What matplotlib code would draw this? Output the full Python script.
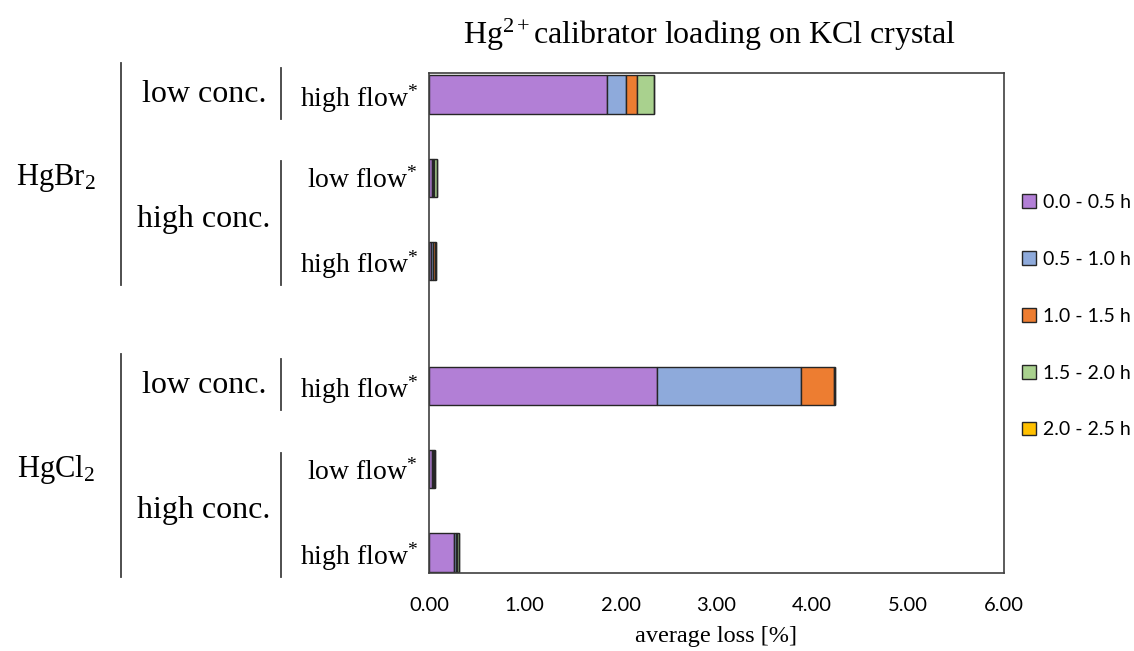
import matplotlib.pyplot as plt
from matplotlib.patches import Patch
from matplotlib.transforms import blended_transform_factory
import numpy as np

plt.rcParams['mathtext.fontset'] = 'custom'
plt.rcParams['mathtext.rm'] = 'Liberation Serif'
plt.rcParams['mathtext.it'] = 'Liberation Serif:italic'

# data
salts = ["HgBr$_2$", "HgCl$_2$"]
concs = [["low conc.", "high conc."], ["low conc.", "high conc."]]
flows = [[["high flow"], ["low flow", "high flow"]],
         [["high flow"], ["low flow", "high flow"]]]
periods = ["0.0 - 0.5 h", "0.5 - 1.0 h", "1.0 - 1.5 h", "1.5 - 2.0 h", "2.0 - 2.5 h"]
t_00_05 = [1.86, 0.03, 0.02, 2.38, 0.03, 0.265]
t_05_10 = [0.20, 0.01, 0.02, 1.50, 0.01, 0.015]
t_10_15 = [0.11, 0.01, 0.02, 0.345, 0.01, 0.01]
t_15_20 = [0.175, 0.03, 0.01, 0.01, 0.01, 0.02]
t_20_25 = [0.0, 0.0, 0.0, 0.0, 0.0, 0.0]
series = [t_00_05, t_05_10, t_10_15, t_15_20, t_20_25]
colors = ["#b27fd6", "#8eaadb", "#ed7d31", "#a9d18e", "#ffc000"]

serif = "Liberation Serif"
sans = "Lato"
edge = "#262626"

fig = plt.figure(figsize=(11.34, 6.51), dpi=100)
W, H = 1134, 651
ax = fig.add_axes([429 / W, 1 - 573 / H, (1003.5 - 429) / W, (573 - 73) / H])

# y positions: one slot per bar, 1.5 slots between salts
ypos, ylabels, conc_spans, salt_spans = [], [], [], []
y = 0.0
for si, salt in enumerate(salts):
    if si > 0:
        y += 0.5
    start_salt = y
    for ci, conc in enumerate(concs[si]):
        start_conc = y
        for f in flows[si][ci]:
            ypos.append(y)
            ylabels.append(f + r"$^{\mathrm{*}}$")
            y += 1
        conc_spans.append((conc, start_conc, y - 1))
    salt_spans.append((salt, start_salt, y - 1))
ypos = np.array(ypos)

left = np.zeros(len(ypos))
for vals, c, lab in zip(series, colors, periods):
    ax.barh(ypos, vals, left=left, height=0.46, color=c, edgecolor=edge,
            linewidth=1.0, label=lab)
    left += np.array(vals)

ax.set_xlim(0, 6)
ax.set_ylim(5.746, -0.258)
ax.set_xticks(np.arange(0, 7, 1))
ax.set_xticklabels(["%.2f" % v for v in np.arange(0, 7, 1)], fontfamily=sans, fontsize=14.5)
ax.set_yticks(ypos)
ax.set_yticklabels(ylabels, fontfamily=serif, fontsize=20)
ax.tick_params(axis="both", length=0)
ax.tick_params(axis="y", pad=8)
ax.tick_params(axis="x", pad=17)
for s in ax.spines.values():
    s.set_color("#404040")
    s.set_linewidth(1.2)

ax.set_xlabel("average loss [%]", fontfamily=serif, fontsize=17.5, labelpad=9)
fig.text(710 / W, 1 - 35 / H, r"Hg$^{\mathrm{2+}}$calibrator loading on KCl crystal",
         ha="center", va="center", fontfamily=serif, fontsize=23)

# group labels and bracket lines
tr = blended_transform_factory(fig.transFigure, ax.transData)
for name, a, b in conc_spans:
    ax.text(204 / W, (a + b) / 2, name, transform=tr, ha="center", va="center",
            fontfamily=serif, fontsize=23)
    top = a - (0.32 if a == b else 0.2)
    ax.plot([281 / W, 281 / W], [top, b + 0.29], transform=tr, color="#404040",
            lw=1.3, clip_on=False)
for name, a, b in salt_spans:
    ax.text(56 / W, (a + b) / 2, name, transform=tr, ha="center", va="center",
            fontfamily=serif, fontsize=22)
    ax.plot([121 / W, 121 / W], [a - 0.38, b + 0.29], transform=tr, color="#404040",
            lw=1.3, clip_on=False)

handles = [Patch(facecolor=c, edgecolor=edge, linewidth=1.0) for c in colors]
fig.legend(handles, periods, loc="upper left", bbox_to_anchor=(1022 / W, 1 - 194 / H),
           frameon=False, prop={"family": sans, "size": 14}, labelspacing=2.05,
           handlelength=0.7, handleheight=0.7, handletextpad=0.4, borderpad=0,
           borderaxespad=0)

fig.savefig("out.png", dpi=100)
